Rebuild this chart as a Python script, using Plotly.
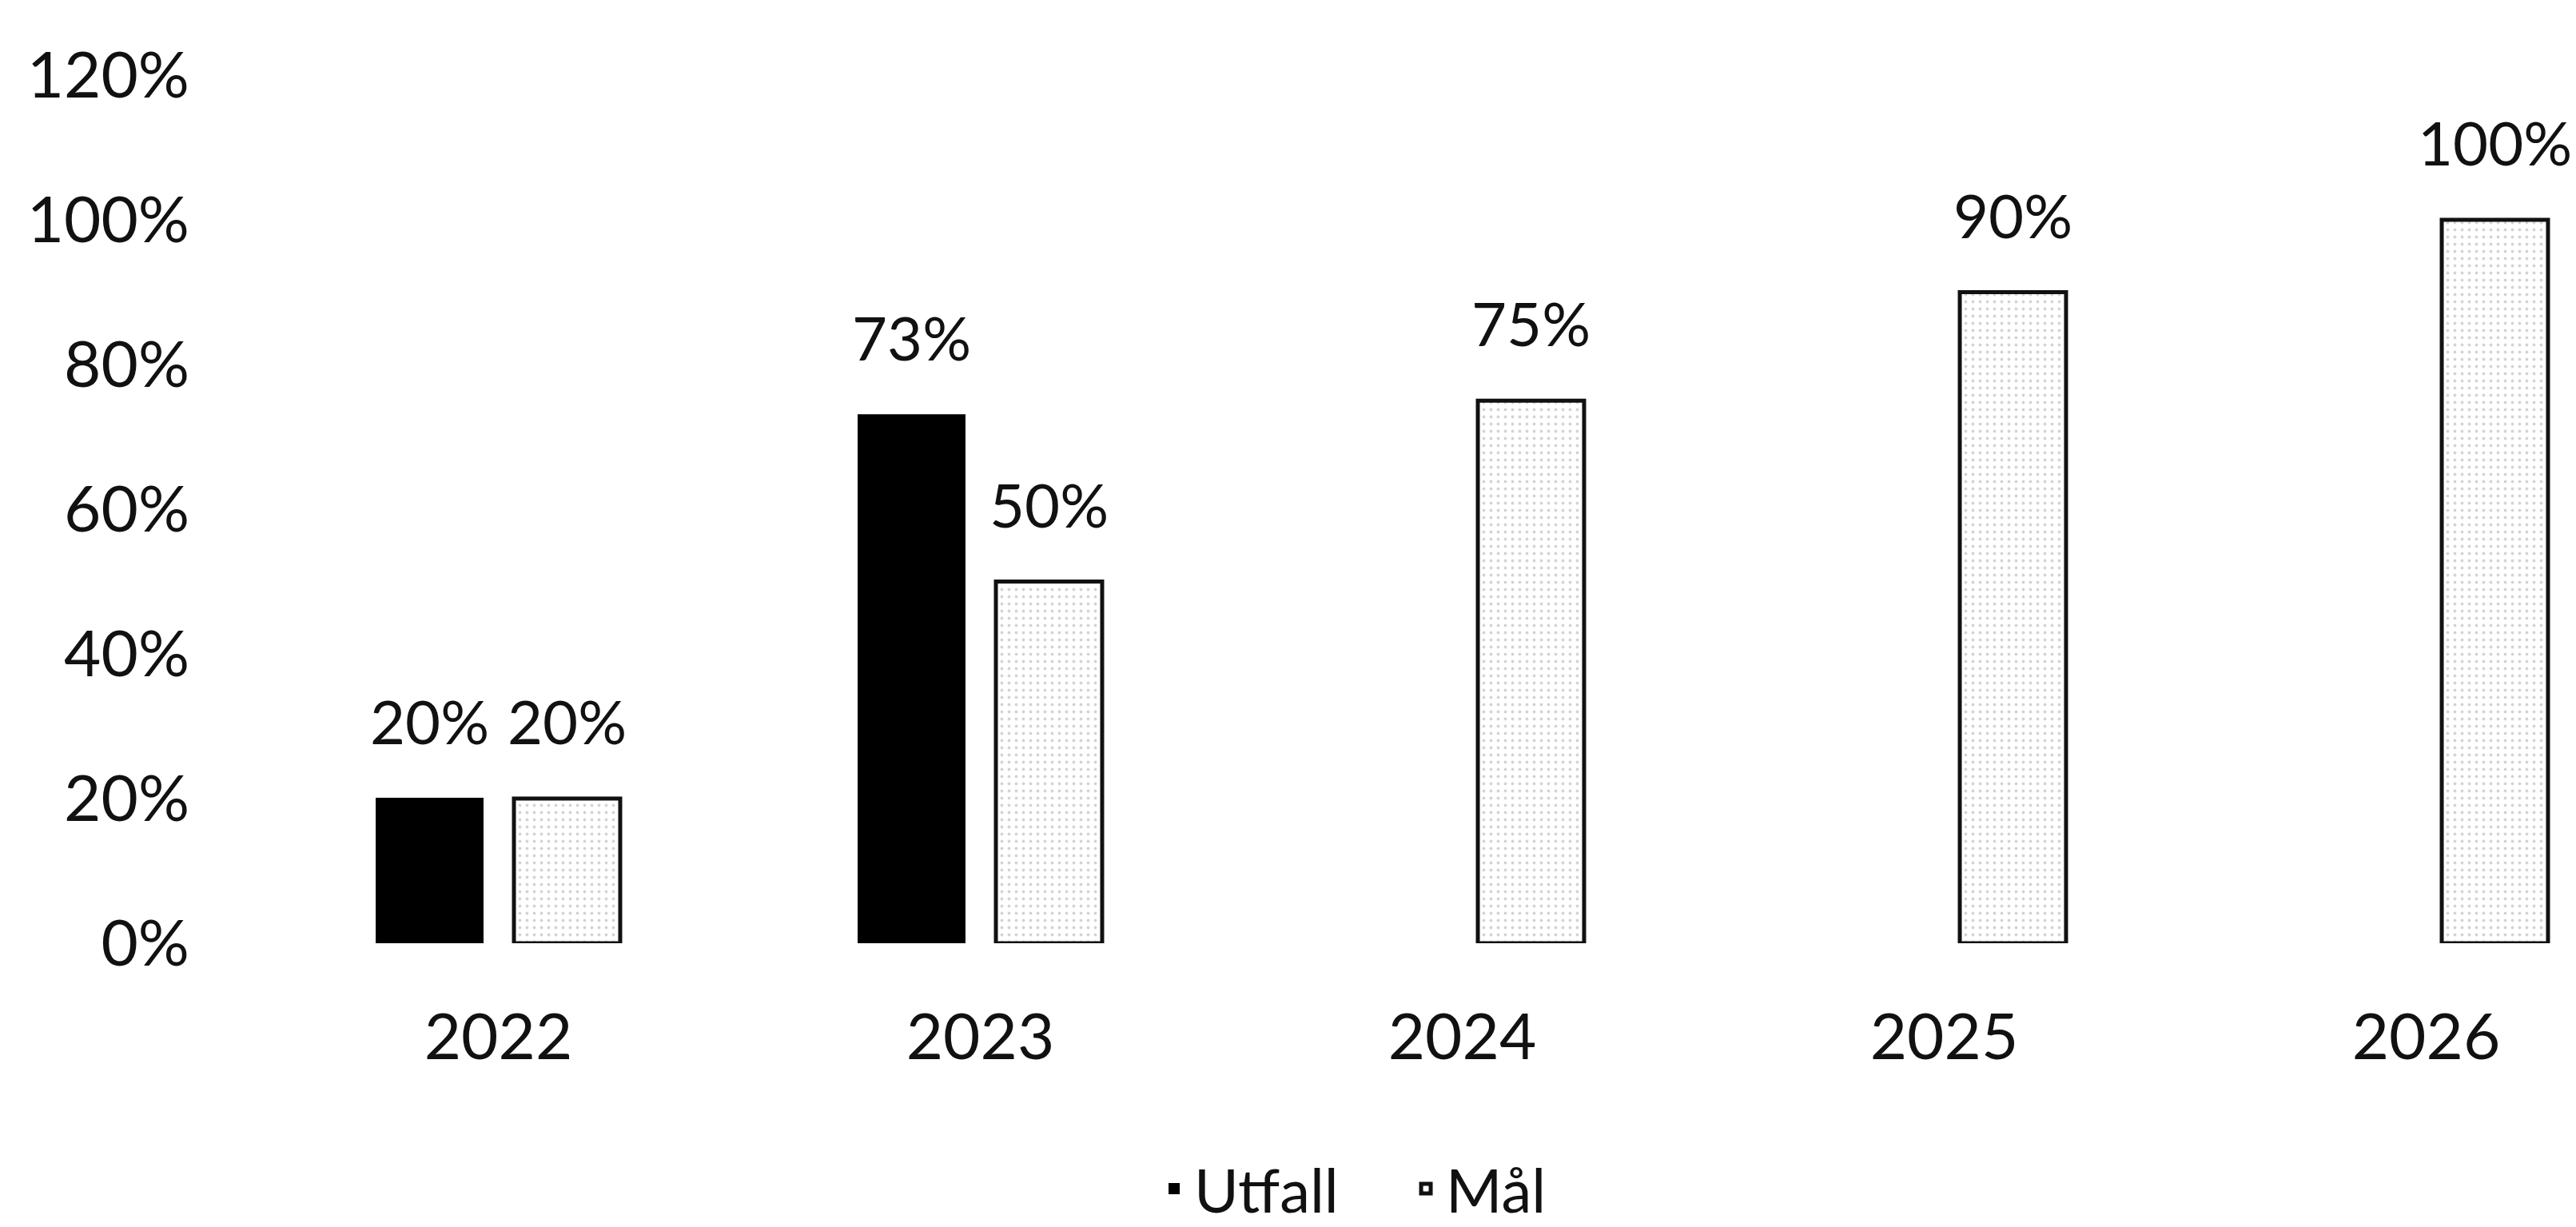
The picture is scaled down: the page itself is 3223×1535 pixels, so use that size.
import plotly.graph_objects as go

years = ["2022", "2023", "2024", "2025", "2026"]
utfall = [0.20, 0.73, None, None, None]
mal = [0.20, 0.50, 0.75, 0.90, 1.00]
y_ticks = [0, 0.2, 0.4, 0.6, 0.8, 1.0, 1.2]
y_tick_labels = ["0%", "20%", "40%", "60%", "80%", "100%", "120%"]

FONT = "Lato"
W, H = 3223, 1535
ML, MR, MT, MB = 314, 0, 86, 347
cat_px = 603.0
plot_w = W - ML - MR

fig = go.Figure()
fig.add_trace(go.Bar(
    name="Utfall", x=years, y=utfall,
    marker=dict(color="#000000", line=dict(color="#000000", width=2)),
))
fig.add_trace(go.Bar(
    name="Mål", x=years, y=mal,
    marker=dict(
        color="#ffffff",
        line=dict(color="#111111", width=5),
        pattern=dict(shape=".", fgcolor="#a8a8a8", bgcolor="#ffffff", size=9, solidity=0.14),
    ),
))

# data labels (placed over each bar of the group)
annotations = []
for series, shift in ((utfall, -86), (mal, 86)):
    for i, v in enumerate(series):
        if v is None:
            continue
        annotations.append(dict(
            x=i, y=v, xref="x", yref="y", text=f"{round(v*100)}%",
            showarrow=False, xshift=shift, yshift=50, yanchor="bottom",
            font=dict(family=FONT, size=76, color="#111111"),
        ))

fig.update_layout(
    width=W, height=H,
    margin=dict(l=ML, r=MR, t=MT, b=MB),
    paper_bgcolor="#ffffff", plot_bgcolor="#ffffff",
    barmode="group", bargap=0.4295, bargroupgap=0.227,
    font=dict(family=FONT, size=78, color="#111111"),
    annotations=annotations,
    showlegend=True,
    legend=dict(
        orientation="h", x=0.494, xanchor="center", y=-0.283, yanchor="middle",
        font=dict(family=FONT, size=76, color="#111111"),
        itemwidth=40, traceorder="normal", entrywidth=260,
    ),
    xaxis=dict(
        type="category", range=[-0.5, -0.5 + plot_w / cat_px],
        showgrid=False, zeroline=False, showline=False, ticks="",
        tickfont=dict(family=FONT, size=80, color="#111111"),
        ticklabelstandoff=64,
    ),
    yaxis=dict(
        range=[0, 1.2], tickvals=y_ticks, ticktext=y_tick_labels,
        showgrid=False, zeroline=False, showline=False, ticks="",
        tickfont=dict(family=FONT, size=80, color="#111111"),
        ticklabelstandoff=84,
    ),
)

fig.write_html("out.html")
